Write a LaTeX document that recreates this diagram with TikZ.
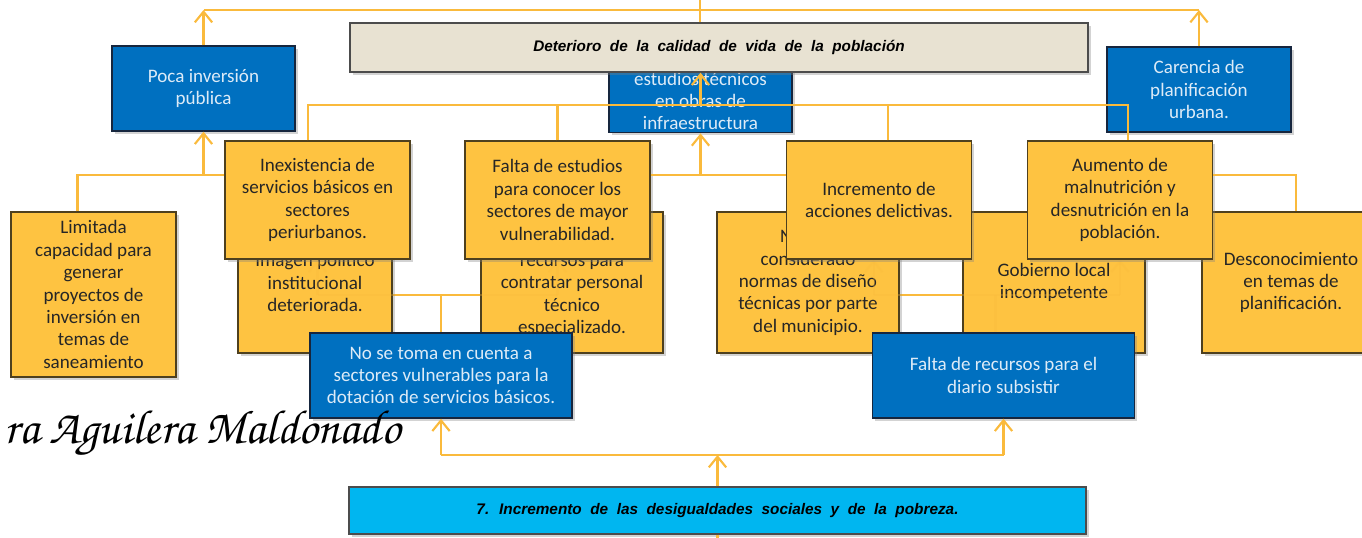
\documentclass[tikz,border=0pt]{standalone}
\usepackage{fontspec}
\setmainfont{Carlito}
\newfontfamily\titlefont[WordSpace=2]{Liberation Sans}
\newfontfamily\handfont{TeX Gyre Chorus}
\usepackage{xcolor}
\usepackage{tikz}
\usetikzlibrary{arrows.meta, shadows}

\definecolor{azul}{RGB}{0,112,192}
\definecolor{azulborde}{RGB}{22,38,62}
\definecolor{amarillo}{RGB}{254,195,65}
\definecolor{amarilloborde}{RGB}{78,64,30}
\definecolor{beige}{RGB}{232,226,210}
\definecolor{celeste}{RGB}{0,182,240}
\definecolor{linea}{RGB}{250,186,60}
\definecolor{textoazul}{RGB}{221,235,247}

\pgfdeclarelayer{lineas}
\pgfdeclarelayer{bajas}
\pgfdeclarelayer{velo}
\pgfsetlayers{lineas,bajas,velo,main}

\begin{document}
\begin{tikzpicture}[x=0.75pt, y=-0.75pt, >={Straight Barb[length=8pt,width=13pt]},
    caja/.style={draw, line width=1pt, align=center, inner sep=2pt,
        font=\fontsize{14.3}{16.8}\selectfont,
        drop shadow={shadow xshift=2pt, shadow yshift=-2pt, opacity=0.35}},
    azulcaja/.style={caja, fill=azul, draw=azulborde, text=textoazul},
    amacaja/.style={caja, fill=amarillo, draw=amarilloborde, text=black!85},
    titulo/.style={caja, draw=black!70, text=black,
        font=\titlefont\bfseries\itshape\fontsize{11.5}{14}\selectfont},
    link/.style={draw=linea, line width=1.6pt}]

    \useasboundingbox (0,0) rectangle (1362,537);

    % 1. Alturas de las lineas
    \coordinate (fuera) at (700,-5);
    \coordinate (arriba) at (0,10);
    \coordinate (medio) at (0,105);
    \coordinate (segundo) at (0,175);
    \coordinate (bajo) at (0,295);
    \coordinate (abajo) at (0,455);

    % 2. Cajas azules de arriba
    \node[azulcaja, minimum width=137.3pt, minimum height=63.8pt] (poca) at (203.5,88.5)
        {Poca inversión\\pública};
    \node[azulcaja, minimum width=137.3pt, minimum height=63.8pt] (estudios) at (700.5,88.5)
        {\strut\\estudios técnicos\\en obras de\\infraestructura};
    \node[azulcaja, minimum width=138pt, minimum height=63.8pt] (carencia) at (1199,89.5)
        {Carencia de\\planificación\\urbana.};

    \node[titulo, fill=beige, minimum width=553.5pt, minimum height=36.8pt] (deterioro) at (719,47.5)
        {Deterioro de la calidad de vida de la población};

    % 3. Cajas amarillas de abajo (detras)
    \begin{pgfonlayer}{bajas}
        \node[amacaja, minimum width=123.8pt, minimum height=123.8pt] (limitada) at (93.5,294.5)
            {Limitada\\capacidad para\\generar\\proyectos de\\inversión en\\temas de\\saneamiento};
        \node[amacaja, minimum width=115.5pt, minimum height=105.8pt] (imagen) at (315,282.5)
            {Imagen político\\institucional\\deteriorada.};
        \node[amacaja, minimum width=136.5pt, minimum height=105.8pt] (recursos) at (572,282.5)
            {\strut\\recursos para\\contratar personal\\técnico\\especializado.};
        \node[amacaja, minimum width=136.5pt, minimum height=105.8pt] (normas) at (808,282.5)
            {No han\\considerado\\normas de diseño\\técnicas por parte\\del municipio.};
        \node[amacaja, minimum width=136.5pt, minimum height=105.8pt] (gobierno) at (1054,282.5)
            {Gobierno local\\incompetente};
        \node[amacaja, minimum width=133.5pt, minimum height=105.8pt] (desconoc) at (1291,282.5)
            {Desconocimiento\\en temas de\\planificación.};
    \end{pgfonlayer}

    % 4. Cajas amarillas de arriba
    \node[amacaja, minimum width=138.8pt, minimum height=88.5pt] (inexistencia) at (317.5,200)
        {Inexistencia de\\servicios básicos en\\sectores\\periurbanos.};
    \node[amacaja, minimum width=138.8pt, minimum height=88.5pt] (faltaest) at (557.5,200)
        {Falta de estudios\\para conocer los\\sectores de mayor\\vulnerabilidad.};
    \node[amacaja, minimum width=138.8pt, minimum height=88.5pt] (incremento) at (879,200)
        {Incremento de\\acciones delictivas.};
    \node[amacaja, minimum width=138.8pt, minimum height=88.5pt] (aumento) at (1120,200)
        {Aumento de\\malnutrición y\\desnutrición en la\\población.};

    % 5. Cajas azules de abajo y el problema
    \node[azulcaja, minimum width=196.5pt, minimum height=63.8pt] (nosetoma) at (441,375.5)
        {No se toma en cuenta a\\sectores vulnerables para la\\dotación de servicios básicos.};
    \node[azulcaja, minimum width=196.5pt, minimum height=63.8pt] (faltarec) at (1003.5,375.5)
        {Falta de recursos para el\\diario subsistir};

    \node[titulo, fill=celeste, minimum width=552.8pt, minimum height=35.3pt] (desigual) at (717.5,510.5)
        {7. Incremento de las desigualdades sociales y de la pobreza.};

    \node[anchor=base east, font=\handfont\fontsize{36}{36}\selectfont] (firma) at (405,443)
        {ra Aguilera Maldonado};

    % 6. Lineas de arriba
    \draw[link] (deterioro.north -| fuera) -- (fuera);
    \draw[link] (poca.north |- arriba) -- (carencia.north |- arriba);
    \draw[link, ->] (poca.north) -- (poca.north |- arriba);
    \draw[link, ->] (carencia.north) -- (carencia.north |- arriba);

    \draw[link] ([xshift=-7pt]inexistencia.north) |- ([xshift=6pt]aumento.north |- medio)
        -- ([xshift=6pt]aumento.north);
    \draw[link] (faltaest.north) -- (faltaest.north |- medio);
    \draw[link] ([xshift=7pt]incremento.north) -- ([xshift=7pt]incremento.north |- medio);
    \draw[link, ->] (estudios.center |- medio) -- (deterioro.south -| estudios.center);

    \draw[link] ([xshift=-12pt]limitada.north) |- (inexistencia.west |- segundo);
    \draw[link, ->] (poca.south |- segundo) -- (poca.south);
    \draw[link] (faltaest.east |- segundo) -- (incremento.west |- segundo);
    \draw[link, ->] (estudios.south |- segundo) -- (estudios.south);
    \draw[link] (aumento.east |- segundo) -| ([xshift=4pt]desconoc.north);

    % 7. Lineas del medio (se ven a traves de las cajas de abajo)
    \foreach \capa/\op in {lineas/1, velo/0.3} {
        \begin{pgfonlayer}{\capa}
            \begin{scope}[opacity=\op]
                \draw[link] (nosetoma.north) -- (nosetoma.north |- bajo);
                \draw[link] (inexistencia.south |- bajo) -- (faltaest.south |- bajo);
                \draw[link, ->] (inexistencia.south |- bajo) -- (inexistencia.south);
                \draw[link, ->] (faltaest.south |- bajo) -- (faltaest.south);
                \draw[link] ([xshift=-6pt]faltarec.north) -- ([xshift=-6pt]faltarec.north |- bajo);
                \draw[link] ([xshift=-4pt]incremento.south |- bajo) -- (aumento.south |- bajo);
                \draw[link, ->] ([xshift=-4pt]incremento.south |- bajo) -- ([xshift=-4pt]incremento.south);
                \draw[link, ->] (aumento.south |- bajo) -- (aumento.south);
            \end{scope}
        \end{pgfonlayer}
    }

    % 8. Lineas de abajo
    \draw[link, ->] (desigual.north) -- (desigual.north |- abajo);
    \draw[link] (nosetoma.south |- abajo) -- (faltarec.south |- abajo);
    \draw[link, ->] (nosetoma.south |- abajo) -- (nosetoma.south);
    \draw[link, ->] (faltarec.south |- abajo) -- (faltarec.south);
    \draw[link] (desigual.south) -- ++(0,12);
\end{tikzpicture}
\end{document}
